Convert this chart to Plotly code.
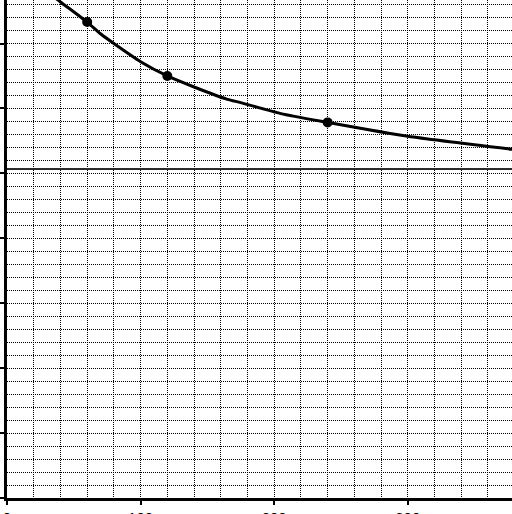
import plotly.graph_objects as go

# Curve (x in axis units, y in axis units)
curve_x = [30, 40, 60, 70, 80, 100, 120, 140, 165, 175, 205, 240, 300, 380]
curve_y = [7.80, 7.64, 7.33, 7.15, 7.00, 6.72, 6.50, 6.33, 6.14, 6.09, 5.92, 5.785, 5.57, 5.365]

# Marked points
point_x = [60, 120, 240]
point_y = [7.33, 6.50, 5.785]

# Horizontal reference line level
ref_level = 5.067

x_range = [0, 378]
y_range = [0, 7.67]
x_ticks = [0, 100, 200, 300]
x_tick_labels = ["0", "100", "200", "300"]

fig = go.Figure()

fig.add_trace(go.Scatter(
    x=x_range, y=[ref_level, ref_level], mode="lines",
    line=dict(color="#2a2a2a", width=2), hoverinfo="skip", showlegend=False,
))
fig.add_trace(go.Scatter(
    x=curve_x, y=curve_y, mode="lines",
    line=dict(color="black", width=3, shape="spline", smoothing=0.6),
    showlegend=False,
))
fig.add_trace(go.Scatter(
    x=point_x, y=point_y, mode="markers",
    marker=dict(color="black", size=10),
    showlegend=False,
))

grid_common = dict(
    showgrid=True, gridcolor="black", gridwidth=1, griddash="1px,1px",
    showline=True, linecolor="black", linewidth=2.5,
    ticks="outside", ticklen=4, tickwidth=2, tickcolor="black",
    zeroline=False,
)

fig.update_xaxes(
    range=x_range, tickvals=x_ticks, ticktext=x_tick_labels,
    tickfont=dict(family="Liberation Sans", size=15, color="black"),
    minor=dict(dtick=20, tick0=0, showgrid=True, gridcolor="black",
               gridwidth=1, griddash="1px,1px", ticks=""),
    **grid_common,
)
fig.update_yaxes(
    range=y_range, dtick=1, tick0=0, showticklabels=False,
    minor=dict(dtick=0.2, tick0=0, showgrid=True, gridcolor="black",
               gridwidth=1, griddash="1px,1px", ticks=""),
    **grid_common,
)

fig.update_layout(
    width=512, height=514,
    margin=dict(l=7, r=0, t=0, b=16, autoexpand=False),
    plot_bgcolor="white", paper_bgcolor="white",
)

fig.write_html(
    "out.html",
    config={"displayModeBar": False},
    post_script="document.body.style.margin='0';document.body.style.padding='0';",
)
